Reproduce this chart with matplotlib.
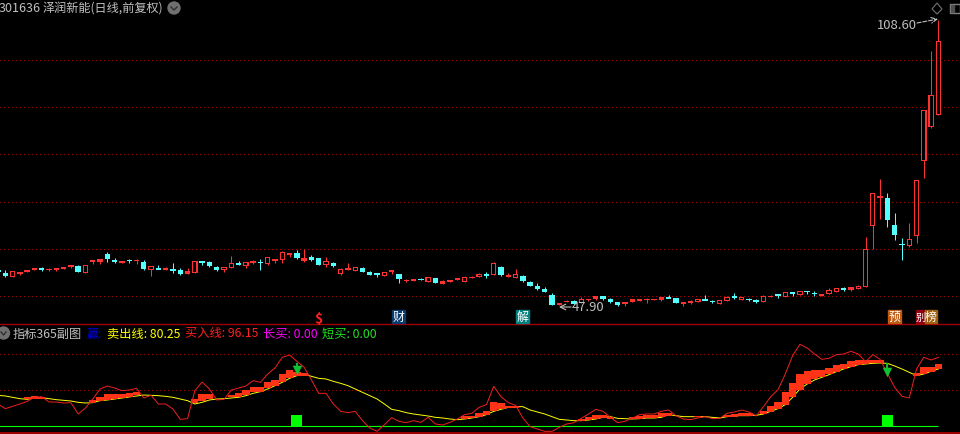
import numpy as np
import matplotlib
matplotlib.use('Agg')
import matplotlib.pyplot as plt
from matplotlib.patches import Rectangle, Circle, Polygon

plt.rcParams['font.family'] = ['Noto Sans CJK SC', 'DejaVu Sans']

kind = ('ccrrrrcrrr' 'rcrrrccrcr' 'crcrccrrcc' 'crrcrrcrrr' 'rcrccrcrrr'
        'cccrrcrrcr' 'crrrrrrcrc' 'rrcccccrrc' 'rrrcccrrrr' 'rrccrrrccr'
        'rcrccrrcrc' 'rccrrrcrrr' 'rrcccrrrrr')
body_top = [92, 101, 97, 98, 92, 88, 88, 90, 88, 85,
            79, 82, 79, 64, 61, 45, 64, 66, 63, 63,
            70, 82, 88, 88, 91, 92, 97, 65, 67, 69,
            84, 85, 73, 73, 70, 67, 68, 55, 61, 40,
            43, 42, 58, 53, 57, 67, 72, 90, 87, 85,
            87, 99, 102, 100, 94, 106, 123, 121, 119, 115,
            118, 127, 124, 118, 115, 114, 105, 106, 72, 84,
            108, 106, 111, 129, 141, 150, 168, 192, 185, 187,
            180, 180, 172, 171, 180, 190, 190, 181, 180, 180,
            180, 175, 175, 177, 189, 185, 180, 181, 186, 184,
            175, 171, 174, 180, 183, 172, 171, 166, 160, 160,
            157, 156, 161, 166, 154, 148, 148, 145, 141, 31,
            -137, -128, -122, -42, 15, 1, -176, -386, -431, -593]
body_bot = [100, 111, 113, 104, 98, 94, 90, 92, 92, 89,
            85, 98, 101, 69, 68, 60, 66, 71, 65, 66,
            90, 92, 90, 92, 92, 104, 104, 101, 69, 81,
            92, 94, 86, 77, 80, 71, 70, 75, 65, 62,
            49, 56, 65, 63, 77, 77, 80, 104, 92, 95,
            98, 107, 107, 110, 100, 120, 125, 125, 122, 128,
            132, 134, 128, 124, 128, 116, 113, 108, 107, 107,
            113, 116, 125, 140, 149, 158, 197, 197, 190, 195,
            193, 183, 179, 179, 188, 197, 196, 188, 185, 183,
            183, 182, 178, 192, 195, 191, 188, 183, 188, 194,
            185, 177, 182, 182, 189, 188, 173, 171, 173, 165,
            167, 160, 163, 170, 164, 158, 150, 152, 149, 143,
            -40, -123, -58, -12, 17, 20, -10, -235, -337, -373]
wick_hi = [92, 93, 97, 98, 92, 88, 84, 87, 88, 85,
           79, 78, 79, 64, 61, 40, 57, 66, 60, 60,
           64, 82, 79, 85, 73, 88, 88, 65, 67, 66,
           81, 85, 52, 67, 70, 63, 60, 55, 61, 37,
           43, 33, 31, 48, 57, 54, 69, 87, 72, 85,
           84, 96, 102, 100, 94, 106, 119, 121, 116, 115,
           118, 123, 124, 118, 111, 111, 102, 99, 69, 81,
           102, 90, 108, 126, 132, 144, 162, 192, 183, 183,
           175, 180, 172, 171, 177, 190, 190, 181, 180, 176,
           180, 175, 168, 177, 189, 182, 180, 168, 182, 184,
           172, 162, 174, 176, 179, 168, 168, 166, 160, 160,
           157, 156, 156, 166, 148, 148, 144, 145, 138, -6,
           -137, -180, -138, -78, -3, -48, -176, -386, -565, -657]
wick_lo = [100, 115, 113, 109, 98, 94, 96, 95, 95, 89,
           88, 98, 101, 74, 74, 68, 71, 71, 71, 74,
           93, 110, 90, 93, 102, 107, 106, 101, 78, 84,
           96, 98, 86, 77, 86, 75, 92, 78, 73, 71,
           55, 60, 68, 66, 77, 83, 84, 107, 92, 95,
           98, 107, 114, 110, 105, 132, 129, 125, 122, 128,
           132, 134, 128, 124, 128, 118, 113, 117, 107, 110,
           113, 116, 128, 140, 153, 158, 197, 197, 190, 195,
           193, 186, 183, 183, 191, 201, 201, 188, 185, 191,
           183, 186, 178, 192, 201, 195, 188, 183, 192, 194,
           185, 180, 182, 186, 192, 188, 173, 177, 173, 171,
           167, 166, 171, 170, 164, 158, 156, 155, 149, 143,
           31, -60, -36, 3, 63, 23, 12, -183, -332, -373]

fast_line = [240, 254, 247, 240, 232, 220, 218, 234, 234, 237,
             236, 270, 252, 225, 195, 186, 192, 200, 198, 193,
             222, 214, 240, 240, 255, 286, 284, 200, 174, 195,
             228, 226, 198, 192, 186, 170, 175, 150, 132, 100,
             93, 112, 130, 168, 208, 208, 240, 262, 266, 262,
             290, 312, 322, 302, 281, 292, 296, 290, 295, 280,
             300, 303, 295, 285, 272, 268, 250, 242, 187, 218,
             236, 244, 282, 308, 315, 322, 322, 310, 300, 296,
             283, 270, 256, 262, 280, 296, 292, 283, 272, 270,
             270, 262, 258, 275, 285, 287, 282, 278, 284, 283,
             268, 264, 258, 264, 276, 248, 218, 197, 150, 95,
             61, 72, 90, 106, 103, 92, 90, 82, 90, 113,
             92, 106, 148, 190, 217, 222, 135, 100, 108, 100]
slow_line = [214, 216, 220, 224, 226, 222, 221, 224, 227, 229,
             231, 235, 237, 236, 230, 228, 225, 222, 219, 216,
             213, 214, 215, 217, 220, 225, 230, 240, 235, 228,
             225, 224, 222, 220, 215, 208, 203, 195, 185, 175,
             163, 155, 150, 157, 163, 165, 172, 178, 185, 195,
             205, 215, 225, 240, 256, 260, 266, 270, 273, 276,
             280, 282, 285, 287, 285, 282, 278, 272, 262, 256,
             250, 248, 248, 258, 264, 270, 278, 286, 288, 290,
             290, 288, 285, 280, 278, 283, 284, 285, 284, 282,
             282, 280, 272, 275, 278, 278, 278, 278, 280, 282,
             278, 275, 275, 275, 274, 270, 262, 254, 242, 220,
             195, 180, 168, 160, 152, 143, 135, 128, 122, 120,
             118, 117, 118, 126, 135, 145, 155, 150, 142, 135]

# stick blocks of the indicator
band_idx = [4, 5, 6, 13, 14, 15, 16, 17, 18, 19,
            27, 28, 29, 32, 33, 34, 35, 36, 37, 38, 39, 40, 41, 42,
            64, 65, 66, 67, 68, 69, 70, 71,
            80, 81, 82, 83, 84, 87, 88, 89, 90, 91, 92,
            96, 100, 101, 102, 103, 105, 106, 107, 108, 109, 110, 111,
            112, 113, 114, 115, 116, 117, 118, 119, 120, 121, 126, 127, 128, 129]
band_top = [220, 217, 218, 229, 218, 210, 210, 210, 208, 204,
            226, 211, 211, 212, 207, 198, 190, 189, 175, 168, 150, 138, 145, 148,
            276, 276, 266, 261, 234, 238, 245, 245,
            285, 280, 273, 273, 278, 280, 276, 274, 272, 268, 267,
            276, 272, 270, 267, 267, 260, 246, 234, 205, 178, 150, 142,
            138, 138, 132, 122, 120, 112, 108, 108, 108, 108, 148, 130, 130, 120]
band_bot = [226, 225, 225, 236, 232, 227, 224, 222, 219, 214,
            238, 232, 226, 220, 220, 214, 205, 203, 192, 186, 175, 162, 155, 155,
            285, 283, 278, 272, 262, 256, 252, 252,
            291, 288, 285, 282, 284, 285, 285, 282, 281, 280, 276,
            280, 278, 278, 276, 276, 270, 264, 255, 244, 220, 198, 180,
            165, 158, 150, 145, 135, 130, 122, 120, 118, 118, 155, 150, 145, 135]

signal_idx = [41, 122]
arrow_head = [137, 144]
grid_main = [-536, -395, -254, -110, 31, 172]
grid_sub = [91, 199]
zero_level = 306
square_top = 273

fig = plt.figure(figsize=(9.6, 4.35), dpi=100, facecolor='black')
ax = fig.add_axes([0, 110 / 435, 1, 325 / 435], facecolor='black')
sub = fig.add_axes([0, 0, 1, 110 / 435], facecolor='black')
over = fig.add_axes([0, 0, 1, 1], facecolor='none')

RED = '#ff3232'
CYAN = '#54ffff'
GRID = '#a00000'
x = np.arange(len(body_top))
for a in (ax, sub):
    a.set_xlim(2 / 7.29, 962 / 7.29)
    a.axis('off')
ax.set_ylim(255, -720)
sub.set_ylim(330, 0)
over.set_xlim(0, 960)
over.set_ylim(435, 0)
over.axis('off')

# main panel: one level is a third of a pixel
for g in grid_main:
    ax.axhline(g, color=GRID, lw=0.72, ls=(0, (1, 3)), antialiased=False, zorder=1)
for i in x:
    c = RED if kind[i] == 'r' else CYAN
    ax.vlines(i, wick_hi[i], wick_lo[i], color=c, lw=0.72, zorder=2)
    h = max(body_bot[i] - body_top[i], 4)
    ax.bar(i, h, bottom=body_top[i], width=0.74, color=c, lw=0, antialiased=False, zorder=3)
    if kind[i] == 'r' and h > 7:
        ax.bar(i, h - 6, bottom=body_top[i] + 3, width=0.44, color='black', lw=0,
               antialiased=False, zorder=4)

# indicator panel
for g in grid_sub:
    sub.axhline(g, color=GRID, lw=0.72, ls=(0, (1, 3)), antialiased=False, zorder=1)
sub.hlines(zero_level, 0, 128.9, color='#00ff00', lw=0.8, zorder=2)
sub.bar(signal_idx, [zero_level - square_top] * 2, bottom=square_top, width=1.5,
        color='#00ff00', zorder=2)
sub.plot(x, slow_line, color='#ffff00', lw=0.7, zorder=2)
sub.bar(band_idx, np.array(band_bot) - np.array(band_top), bottom=band_top, width=1.0,
        color='#ff3315', zorder=3)
sub.plot(x, fast_line, color='#f02020', lw=0.7, zorder=4)
sub.vlines(signal_idx, 117, 136, color='#10c030', lw=1.4, zorder=5)
sub.scatter(signal_idx, arrow_head, marker='v', s=48, color='#10c030', linewidths=0, zorder=5)

# frame lines in picture pixels
over.axhline(325, color=GRID, lw=1.0)
over.axhline(434, color=GRID, lw=1.4)

# header text
GREY = '#c0c0c0'
FS = 8.6
over.text(-1, 9, '301636', color=GREY, fontsize=9.0, va='center')
over.text(43, 9, '泽润新能(日线,前复权)', color=GREY, fontsize=8.7, va='center')
over.add_patch(Circle((174, 9), 6, color='#707070'))
over.plot([171, 174, 177], [8, 11, 8], color='#303030', lw=1)
over.add_patch(Polygon([(937, 4), (942, 10), (937, 15), (932, 10)], fill=False, ec='#707070', lw=0.8))
over.add_patch(Rectangle((950, 5), 10, 9, fill=False, ec='#808080', lw=1))
over.add_patch(Rectangle((951, 6), 3, 7, color='#505050'))

# price notes
over.text(877, 25.5, '108.60', color=GREY, fontsize=9.4, va='center')
over.annotate('', xy=(938, 20), xytext=(917, 24),
              arrowprops=dict(arrowstyle='->', color=GREY, lw=0.8, ls='--', shrinkA=0, shrinkB=0))
over.text(572, 308, '47.90', color=GREY, fontsize=9.4, va='center')
over.annotate('', xy=(559, 308), xytext=(571, 308),
              arrowprops=dict(arrowstyle='->', color=GREY, lw=0.8, shrinkA=0, shrinkB=0))

# event tags
over.text(318, 319, '$', color='#ff2020', fontsize=10, ha='center', va='center', fontweight='bold')
for label, left, wid, col, size in [('财', 392, 13, '#083a70', FS), ('解', 516, 13, '#008080', FS),
                                    ('预', 888, 13, '#c05a10', FS), ('别', 916, 9, '#900010', 7.4),
                                    ('榜', 925, 12, '#a06010', FS)]:
    over.add_patch(Rectangle((left, 311), wid, 13, color=col, zorder=6))
    over.text(left + wid / 2, 317.5, label, color='white', fontsize=size, ha='center', va='center', zorder=7)

# indicator legend
over.add_patch(Circle((3.5, 334), 6, color='#707070'))
over.plot([1, 3.5, 6], [333, 336, 333], color='#303030', lw=1)
legend = [(13, '指标365副图', GREY, 8.8), (87, '赢:', '#0000e0', FS), (107, '卖出线: 80.25', '#ffff00', 8.8),
          (185, '买入线: 96.15', '#ff2020', 8.8), (263, '长买: 0.00', '#ff00ff', 8.8), (322, '短买: 0.00', '#20e020', 8.8)]
for left, label, col, size in legend:
    over.text(left, 334, label, color=col, fontsize=size, va='center')

fig.savefig('out.png', dpi=100, facecolor='black')
